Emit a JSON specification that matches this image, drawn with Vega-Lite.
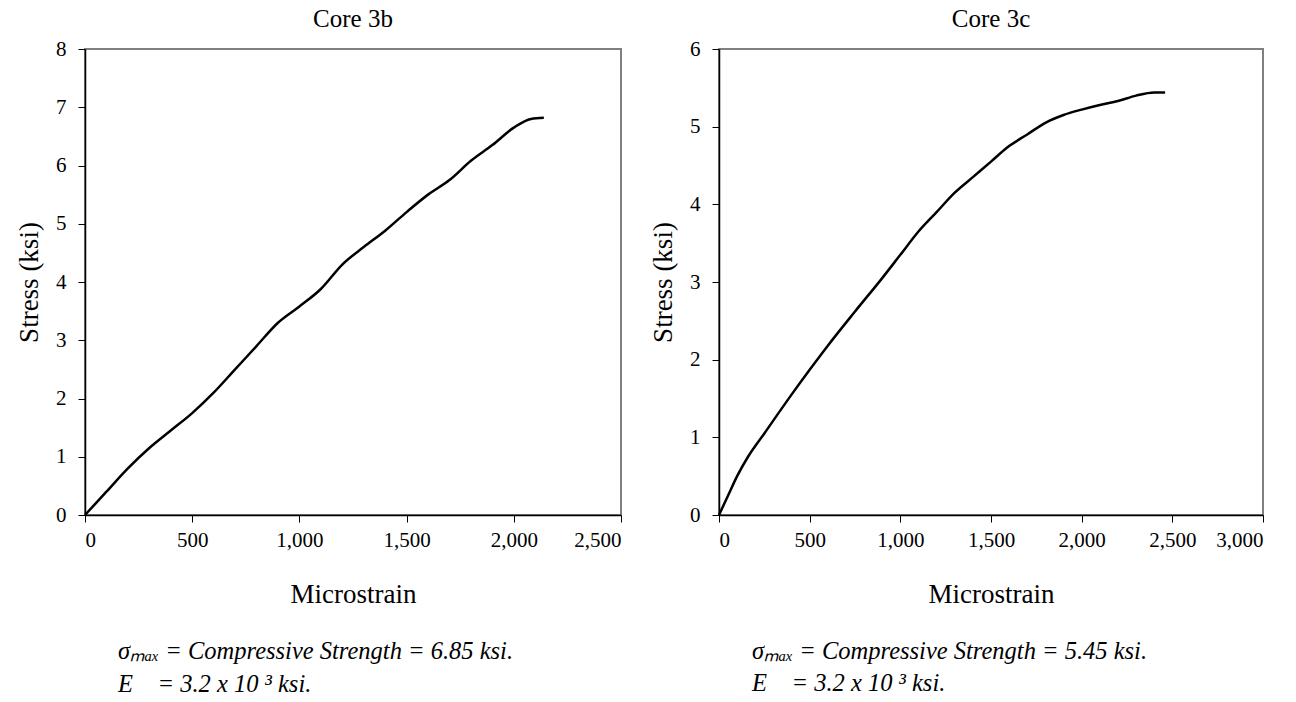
{
  "$schema": "https://vega.github.io/schema/vega-lite/v6.json",
  "background": "white",
  "padding": {"left": 14, "top": 6, "right": 5, "bottom": 0},
  "config": {
    "font": "Liberation Serif",
    "view": {"stroke": "#808080", "strokeWidth": 2},
    "axis": {"domainColor": "black", "domainWidth": 1.5, "tickColor": "black", "tickSize": 7, "tickWidth": 1, "labelFont": "Liberation Serif", "labelFontSize": 21, "labelColor": "black", "titleFont": "Liberation Serif", "titleFontSize": 27, "titleFontWeight": "normal", "titleColor": "black", "grid": false},
    "axisX": {"labelPadding": 7, "titlePadding": 31},
    "axisY": {"labelPadding": 12, "titlePadding": 12},
    "title": {"font": "Liberation Serif", "fontSize": 25, "fontWeight": "normal", "color": "black", "anchor": "middle", "offset": 6},
    "text": {"font": "Liberation Serif"}
  },
  "bounds": "flush",
  "spacing": 98,
  "datasets": {
    "core3b": [
      {"strain": 0, "stress": 0}, {"strain": 100, "stress": 0.4}, {"strain": 200, "stress": 0.8}, {"strain": 300, "stress": 1.15},
      {"strain": 400, "stress": 1.45}, {"strain": 500, "stress": 1.75}, {"strain": 600, "stress": 2.1}, {"strain": 700, "stress": 2.5},
      {"strain": 800, "stress": 2.9}, {"strain": 900, "stress": 3.3}, {"strain": 1000, "stress": 3.58}, {"strain": 1100, "stress": 3.88},
      {"strain": 1200, "stress": 4.3}, {"strain": 1300, "stress": 4.6}, {"strain": 1400, "stress": 4.88}, {"strain": 1500, "stress": 5.2},
      {"strain": 1600, "stress": 5.5}, {"strain": 1700, "stress": 5.75}, {"strain": 1800, "stress": 6.08}, {"strain": 1900, "stress": 6.35},
      {"strain": 2000, "stress": 6.65}, {"strain": 2080, "stress": 6.8}, {"strain": 2140, "stress": 6.82}
    ],
    "core3c": [
      {"strain": 0, "stress": 0}, {"strain": 50, "stress": 0.25}, {"strain": 100, "stress": 0.5}, {"strain": 160, "stress": 0.75},
      {"strain": 250, "stress": 1.05}, {"strain": 400, "stress": 1.55}, {"strain": 500, "stress": 1.87}, {"strain": 600, "stress": 2.18},
      {"strain": 750, "stress": 2.62}, {"strain": 900, "stress": 3.05}, {"strain": 1000, "stress": 3.35}, {"strain": 1100, "stress": 3.65},
      {"strain": 1200, "stress": 3.9}, {"strain": 1300, "stress": 4.15}, {"strain": 1400, "stress": 4.35}, {"strain": 1500, "stress": 4.55},
      {"strain": 1600, "stress": 4.75}, {"strain": 1700, "stress": 4.9}, {"strain": 1800, "stress": 5.05}, {"strain": 1900, "stress": 5.15},
      {"strain": 2000, "stress": 5.22}, {"strain": 2100, "stress": 5.28}, {"strain": 2200, "stress": 5.33}, {"strain": 2300, "stress": 5.4},
      {"strain": 2400, "stress": 5.44}, {"strain": 2460, "stress": 5.44}
    ],
    "note3b1": [{"label": "σₘₐₓ = Compressive Strength = 6.85 ksi."}],
    "note3b2": [{"label": "E\u00a0\u00a0\u00a0\u00a0= 3.2 x 10 ³ ksi."}],
    "note3c1": [{"label": "σₘₐₓ = Compressive Strength = 5.45 ksi."}],
    "note3c2": [{"label": "E\u00a0\u00a0\u00a0\u00a0= 3.2 x 10 ³ ksi."}]
  },
  "hconcat": [
    {
      "title": "Core 3b",
      "width": 536,
      "height": 466,
      "layer": [
        {
          "data": {"name": "core3b"},
          "mark": {"type": "line", "color": "black", "strokeWidth": 2.5, "interpolate": "monotone"},
          "encoding": {
            "x": {"field": "strain", "type": "quantitative", "scale": {"domain": [0, 2500], "nice": false}, "axis": {"title": "Microstrain", "values": [0, 500, 1000, 1500, 2000, 2500], "format": ",d", "labelFont": "Liberation Serif"}},
            "y": {"field": "stress", "type": "quantitative", "scale": {"domain": [0, 8], "nice": false}, "axis": {"title": "Stress (ksi)", "values": [0, 1, 2, 3, 4, 5, 6, 7, 8], "format": "d", "labelFont": "Liberation Serif"}}
          }
        },
        {
          "data": {"name": "note3b1"},
          "mark": {"type": "text", "align": "left", "baseline": "middle", "fontStyle": "italic", "fontSize": 24.5, "font": "Liberation Serif", "color": "black"},
          "encoding": {
            "x": {"datum": 154, "type": "quantitative", "axis": {"title": "Microstrain", "values": [0, 500, 1000, 1500, 2000, 2500], "format": ",d", "labelFont": "Liberation Serif"}},
            "y": {"datum": -2.35, "type": "quantitative", "axis": {"title": "Stress (ksi)", "values": [0, 1, 2, 3, 4, 5, 6, 7, 8], "format": "d", "labelFont": "Liberation Serif"}},
            "text": {"field": "label"}
          }
        },
        {
          "data": {"name": "note3b2"},
          "mark": {"type": "text", "align": "left", "baseline": "middle", "fontStyle": "italic", "fontSize": 24.5, "font": "Liberation Serif", "color": "black"},
          "encoding": {
            "x": {"datum": 154, "type": "quantitative", "axis": {"title": "Microstrain", "values": [0, 500, 1000, 1500, 2000, 2500], "format": ",d", "labelFont": "Liberation Serif"}},
            "y": {"datum": -2.92, "type": "quantitative", "axis": {"title": "Stress (ksi)", "values": [0, 1, 2, 3, 4, 5, 6, 7, 8], "format": "d", "labelFont": "Liberation Serif"}},
            "text": {"field": "label"}
          }
        }
      ]
    },
    {
      "title": "Core 3c",
      "width": 544,
      "height": 466,
      "layer": [
        {
          "data": {"name": "core3c"},
          "mark": {"type": "line", "color": "black", "strokeWidth": 2.5, "interpolate": "monotone"},
          "encoding": {
            "x": {"field": "strain", "type": "quantitative", "scale": {"domain": [0, 3000], "nice": false}, "axis": {"title": "Microstrain", "values": [0, 500, 1000, 1500, 2000, 2500, 3000], "format": ",d", "labelFont": "Liberation Serif"}},
            "y": {"field": "stress", "type": "quantitative", "scale": {"domain": [0, 6], "nice": false}, "axis": {"title": "Stress (ksi)", "values": [0, 1, 2, 3, 4, 5, 6], "format": "d", "labelFont": "Liberation Serif"}}
          }
        },
        {
          "data": {"name": "note3c1"},
          "mark": {"type": "text", "align": "left", "baseline": "middle", "fontStyle": "italic", "fontSize": 24.5, "font": "Liberation Serif", "color": "black"},
          "encoding": {
            "x": {"datum": 182, "type": "quantitative", "axis": {"title": "Microstrain", "values": [0, 500, 1000, 1500, 2000, 2500, 3000], "format": ",d", "labelFont": "Liberation Serif"}},
            "y": {"datum": -1.76, "type": "quantitative", "axis": {"title": "Stress (ksi)", "values": [0, 1, 2, 3, 4, 5, 6], "format": "d", "labelFont": "Liberation Serif"}},
            "text": {"field": "label"}
          }
        },
        {
          "data": {"name": "note3c2"},
          "mark": {"type": "text", "align": "left", "baseline": "middle", "fontStyle": "italic", "fontSize": 24.5, "font": "Liberation Serif", "color": "black"},
          "encoding": {
            "x": {"datum": 182, "type": "quantitative", "axis": {"title": "Microstrain", "values": [0, 500, 1000, 1500, 2000, 2500, 3000], "format": ",d", "labelFont": "Liberation Serif"}},
            "y": {"datum": -2.18, "type": "quantitative", "axis": {"title": "Stress (ksi)", "values": [0, 1, 2, 3, 4, 5, 6], "format": "d", "labelFont": "Liberation Serif"}},
            "text": {"field": "label"}
          }
        }
      ]
    }
  ]
}
